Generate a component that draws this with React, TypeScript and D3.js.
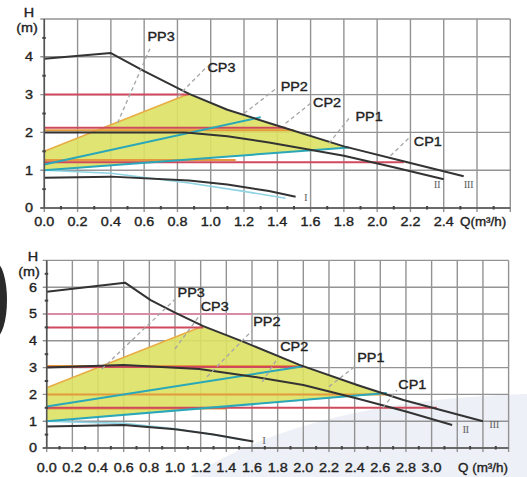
import React, { useRef, useEffect } from 'react';
import * as d3 from 'd3';

type Pt = [number, number];

// ---- top chart (Q up to 2.8, H up to 5) ----
const topQLabels = ['0.0', '0.2', '0.4', '0.6', '0.8', '1.0', '1.2', '1.4', '1.6', '1.8', '2.0', '2.2', '2.4'];
const topHLabels = [0, 1, 2, 3, 4];
const topCurve3: Pt[] = [[0, 3.95], [0.4, 4.1], [0.6, 3.62], [0.87, 3.02], [1.1, 2.6], [1.35, 2.25], [1.8, 1.63], [2.2, 1.19], [2.52, 0.84]];
const topCurve2: Pt[] = [[0, 2.0], [0.85, 2.0], [1.1, 1.9], [1.35, 1.73], [1.8, 1.38], [2.1, 1.08], [2.4, 0.76]];
const topCurve1: Pt[] = [[0, 0.8], [0.4, 0.83], [0.87, 0.73], [1.1, 0.62], [1.35, 0.45], [1.51, 0.3]];
const topLow: Pt[] = [[0, 1.0], [0.4, 0.92], [0.87, 0.66], [1.2, 0.44], [1.45, 0.26]];
const topCyan: Pt[][] = [[[0, 1.15], [1.3, 2.4]], [[0, 1.0], [1.83, 1.6]]];
const topArea: Pt[] = [[0, 1.5], [0.87, 3.02], [1.1, 2.6], [1.35, 2.25], [1.83, 1.6], [0, 1.0]];
const topRed: Pt[] = [[3.0, 0.87], [2.12, 1.45], [1.21, 2.16]]; // [H, Q end]
const topOrange: Pt[] = [[2.06, 1.5], [1.27, 1.15]];
const topLeaders = [
  { name: 'PP3', from: [0.44, 2.25], to: [0.64, 4.27], at: [0.62, 4.42] },
  { name: 'CP3', from: [0.8, 2.95], to: [0.98, 3.75], at: [0.98, 3.6] },
  { name: 'PP2', from: [1.2, 2.5], to: [1.39, 3.15], at: [1.42, 3.1] },
  { name: 'CP2', from: [1.45, 2.24], to: [1.6, 2.77], at: [1.615, 2.67] },
  { name: 'PP1', from: [1.71, 1.71], to: [1.84, 2.42], at: [1.87, 2.3] },
  { name: 'CP1', from: [2.08, 1.38], to: [2.2, 1.89], at: [2.22, 1.64] },
];
const topRoman = [{ t: 'I', at: [1.56, 0.18] }, { t: 'II', at: [2.34, 0.53] }, { t: 'III', at: [2.52, 0.53] }];

// ---- bottom chart (Q up to 3.6, H up to 7) ----
const botQLabels = ['0.0', '0.2', '0.4', '0.6', '0.8', '1.0', '1.2', '1.4', '1.6', '1.8', '2.0', '2.2', '2.4', '2.6', '2.8', '3.0'];
const botHLabels = [0, 1, 2, 3, 4, 5, 6];
const botCurve3: Pt[] = [[0, 5.83], [0.61, 6.17], [0.81, 5.52], [1.0, 5.05], [1.22, 4.55], [1.53, 3.97], [1.97, 3.1], [2.42, 2.35], [2.78, 1.79], [3.4, 1.0]];
const botCurve2: Pt[] = [[0, 3.0], [0.6, 3.1], [1.19, 2.95], [1.61, 2.66], [2.0, 2.35], [2.42, 1.85], [2.8, 1.36], [3.16, 0.86]];
const botCurve1: Pt[] = [[0, 0.8], [0.6, 0.86], [1.0, 0.7], [1.3, 0.5], [1.61, 0.24]];
const botLow: Pt[] = [[0, 1.0], [0.6, 0.92], [1.0, 0.72], [1.3, 0.5], [1.55, 0.28]];
const botCyan: Pt[][] = [[[0, 1.55], [2.0, 3.05]], [[0, 1.0], [2.65, 2.05]]];
const botArea: Pt[] = [[0, 2.25], [1.22, 4.55], [1.53, 3.97], [1.97, 3.1], [2.42, 2.35], [2.65, 2.02], [0, 1.0]];
const botRed: Pt[] = [[4.5, 1.22], [3.02, 2.0], [1.5, 3.04]];
const botPink: Pt[] = [[5.0, 1.6]];
const botOrange: Pt[] = [[3.06, 1.97], [2.0, 2.65], [1.47, 1.4]];
const botLeaders = [
  { name: 'PP3', from: [0.43, 2.95], to: [1.0, 5.55], at: [1.02, 5.63] },
  { name: 'CP3', from: [1.0, 3.7], to: [1.2, 5.0], at: [1.2, 5.1] },
  { name: 'PP2', from: [1.25, 2.66], to: [1.6, 4.38], at: [1.61, 4.55] },
  { name: 'CP2', from: [1.68, 2.47], to: [1.8, 3.35], at: [1.82, 3.62] },
  { name: 'PP1', from: [2.2, 2.29], to: [2.4, 3.03], at: [2.42, 3.2] },
  { name: 'CP1', from: [2.62, 1.5], to: [2.73, 2.16], at: [2.74, 2.2] },
];
const botRoman = [{ t: 'I', at: [1.68, 0.15] }, { t: 'II', at: [3.24, 0.56] }, { t: 'III', at: [3.45, 0.75] }];

const FONT = 'Liberation Sans, Arial, sans-serif';

const panels = [
  {
    qMax: 2.8, hMax: 5, left: 44.3, right: 510.3, top: 19, bottom: 208,
    qLabels: topQLabels, hLabels: topHLabels, c3: topCurve3, c2: topCurve2, c1: topCurve1, low: topLow,
    cyan: topCyan, area: topArea, red: topRed, pink: [] as Pt[], orange: topOrange, leaders: topLeaders, roman: topRoman,
    qTitle: 'Q(m³/h)', qTitleX: 460, xLabDy: 18, yLabX: 33, hTitle: [29, 17], mTitle: [27, 32],
  },
  {
    qMax: 3.6, hMax: 7, left: 46.7, right: 508.6, top: 260.4, bottom: 448,
    qLabels: botQLabels, hLabels: botHLabels, c3: botCurve3, c2: botCurve2, c1: botCurve1, low: botLow,
    cyan: botCyan, area: botArea, red: botRed, pink: botPink, orange: botOrange, leaders: botLeaders, roman: botRoman,
    qTitle: 'Q (m³/h)', qTitleX: 458, xLabDy: 23.5, yLabX: 37, hTitle: [33, 261], mTitle: [29, 276],
  },
];

const txt = (g: any, x: number, y: number, s: string, anchor = 'start', size = 12, sx = 1.2) =>
  g.append('text')
    .attr('transform', `translate(${x},${y}) scale(${sx},1)`)
    .attr('text-anchor', anchor)
    .attr('font-family', FONT)
    .attr('font-size', size)
    .attr('fill', '#222')
    .attr('stroke', '#222')
    .attr('stroke-width', 0.35)
    .text(s);

const App = () => {
  const ref = useRef<SVGSVGElement>(null);

  useEffect(() => {
    if (!ref.current) return;
    const svg = d3.select(ref.current);
    svg.selectAll('*').remove();

    svg.append('rect').attr('width', 527).attr('height', 477).attr('fill', '#fff');
    // faint watermark behind the lower chart
    svg.append('path').attr('d', 'M 190 477 Q 310 400 527 394 L 527 477 Z').attr('fill', '#edf0f6');
    // dark photo edge at left
    svg.append('ellipse').attr('cx', -5).attr('cy', 300).attr('rx', 12).attr('ry', 38).attr('fill', '#2a2a2a');

    panels.forEach(p => {
      const x = d3.scaleLinear().domain([0, p.qMax]).range([p.left, p.right]);
      const y = d3.scaleLinear().domain([0, p.hMax]).range([p.bottom, p.top]);
      const g = svg.append('g');
      const line = d3.line<Pt>().x(d => x(d[0])).y(d => y(d[1]));

      // grid
      const qGrid = d3.range(0, p.qMax + 0.001, 0.2);
      const hGrid = d3.range(0, p.hMax + 0.001, 1);
      g.append('g').selectAll('line').data(qGrid).join('line')
        .attr('x1', d => x(d)).attr('x2', d => x(d))
        .attr('y1', p.top).attr('y2', p.bottom + 4)
        .attr('stroke', '#939393').attr('stroke-width', 1.4);
      g.append('g').selectAll('line').data(hGrid).join('line')
        .attr('x1', p.left - 4).attr('x2', p.right)
        .attr('y1', d => y(d)).attr('y2', d => y(d))
        .attr('stroke', '#939393').attr('stroke-width', 1.4);

      // shaded operating area
      g.append('path').attr('d', line(p.area) + 'Z')
        .attr('fill', '#dbe163').attr('opacity', 0.9);
      g.append('path').attr('d', line([p.area[0], p.area[1]]))
        .attr('stroke', '#e8ad45').attr('stroke-width', 1.6).attr('fill', 'none');

      // constant pressure lines
      p.pink.forEach(([h, q]) => {
        g.append('line').attr('x1', x(0)).attr('x2', x(q)).attr('y1', y(h)).attr('y2', y(h))
          .attr('stroke', '#d98ca8').attr('stroke-width', 2);
      });
      p.orange.forEach(([h, q]) => {
        g.append('line').attr('x1', x(0)).attr('x2', x(q)).attr('y1', y(h)).attr('y2', y(h))
          .attr('stroke', '#e49a3c').attr('stroke-width', 2);
      });
      p.red.forEach(([h, q]) => {
        g.append('line').attr('x1', x(0)).attr('x2', x(q)).attr('y1', y(h)).attr('y2', y(h))
          .attr('stroke', '#d04a5e').attr('stroke-width', 2);
      });

      // proportional pressure lines
      g.append('path').attr('d', line(p.low)).attr('fill', 'none')
        .attr('stroke', '#8fd3e3').attr('stroke-width', 1.6);
      p.cyan.forEach(c => {
        g.append('path').attr('d', line(c)).attr('fill', 'none')
          .attr('stroke', '#2aa7b9').attr('stroke-width', 2);
      });

      // pump curves
      [p.c1, p.c2, p.c3].forEach(c => {
        g.append('path').attr('d', line(c)).attr('fill', 'none')
          .attr('stroke', '#333').attr('stroke-width', 2).attr('stroke-linejoin', 'round');
      });

      // leaders + labels
      p.leaders.forEach(l => {
        g.append('line')
          .attr('x1', x(l.from[0])).attr('y1', y(l.from[1]))
          .attr('x2', x(l.to[0])).attr('y2', y(l.to[1]))
          .attr('stroke', '#a5a5a5').attr('stroke-width', 1.3).attr('stroke-dasharray', '4,3');
        txt(g, x(l.at[0]), y(l.at[1]), l.name, 'start', 12, 1.2);
      });
      p.roman.forEach(r => {
        g.append('text').attr('x', x(r.at[0])).attr('y', y(r.at[1]))
          .attr('font-family', 'Liberation Serif, serif').attr('font-size', 11)
          .attr('letter-spacing', -0.5).attr('fill', '#666').text(r.t);
      });

      // axes
      g.append('line').attr('x1', p.left).attr('x2', p.left).attr('y1', p.top).attr('y2', p.bottom)
        .attr('stroke', '#555').attr('stroke-width', 1.6);
      g.append('line').attr('x1', p.left - 4).attr('x2', p.right).attr('y1', p.bottom).attr('y2', p.bottom)
        .attr('stroke', '#555').attr('stroke-width', 1.6);
      const qMinor = d3.range(0.1, p.qMax, 0.2);
      g.append('g').selectAll('line').data(qMinor).join('line')
        .attr('x1', d => x(d)).attr('x2', d => x(d))
        .attr('y1', p.bottom - 2).attr('y2', p.bottom + 1.5)
        .attr('stroke', '#444').attr('stroke-width', 2);
      const hMinor = d3.range(0.5, p.hMax, 1);
      g.append('g').selectAll('line').data(hMinor).join('line')
        .attr('x1', p.left - 2).attr('x2', p.left + 1.5)
        .attr('y1', d => y(d)).attr('y2', d => y(d))
        .attr('stroke', '#444').attr('stroke-width', 2);

      p.qLabels.forEach(s => txt(g, x(+s), p.bottom + p.xLabDy, s, 'middle', 12, 1.2));
      p.hLabels.forEach(h => txt(g, p.yLabX, y(h) + 4.3, String(h), 'end', 12, 1.2));
      txt(g, p.qTitleX, p.bottom + p.xLabDy, p.qTitle, 'start', 12, 1.12);
      txt(g, p.hTitle[0], p.hTitle[1], 'H', 'middle', 12, 1.2);
      txt(g, p.mTitle[0], p.mTitle[1], '(m)', 'middle', 12, 1.2);
    });
  }, []);

  return (
    <svg ref={ref} width={527} height={477}
      style={{ position: 'absolute', left: 0, top: 0, display: 'block' }} />
  );
};

export default App;
